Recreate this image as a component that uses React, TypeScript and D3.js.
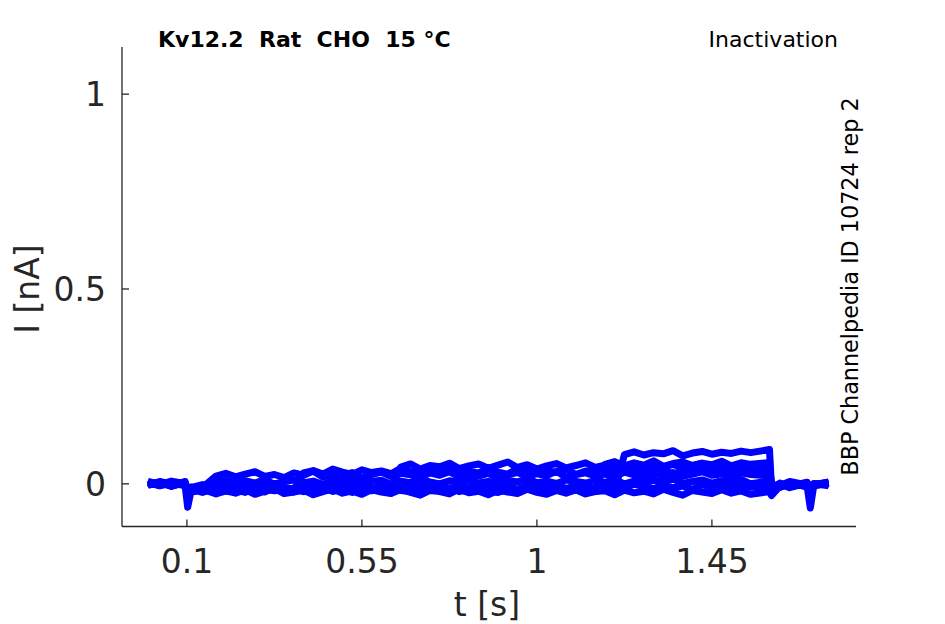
import React from "react";
import * as d3 from "d3";

// sample times (s)
const times = [
  0, 0.03, 0.06, 0.095, 0.102, 0.11, 0.14, 0.175, 0.2, 0.225,
  0.25, 0.275, 0.3, 0.325, 0.35, 0.375, 0.4, 0.425, 0.45, 0.475,
  0.5, 0.525, 0.55, 0.575, 0.6, 0.625, 0.65, 0.675, 0.7, 0.725,
  0.75, 0.775, 0.8, 0.825, 0.85, 0.875, 0.9, 0.925, 0.95, 0.975,
  1.0, 1.025, 1.05, 1.075, 1.1, 1.125, 1.15, 1.175, 1.2, 1.225,
  1.25, 1.275, 1.3, 1.325, 1.35, 1.375, 1.4, 1.425, 1.45, 1.475,
  1.5, 1.525, 1.55, 1.598, 1.603, 1.625, 1.65, 1.695, 1.703, 1.712,
  1.75,
];

// sweep currents in pA (converted to nA when drawn)
const sweep1 = [
  2, -4, 5, -2, -60, -22, -14, -26, -18, -24,
  -15, -27, -19, -12, -25, -21, -16, -28, -20, -13,
  -24, -18, -27, -15, -21, -25, -14, -22, -29, -17,
  -20, -26, -13, -23, -19, -28, -16, -21, -25, -14,
  -22, -27, -17, -24, -15, -26, -20, -18, -28, -16,
  -23, -19, -26, -14, -22, -29, -17, -21, -25, -15,
  -24, -18, -27, -20, -30, -6, 2, -8, -62, -4,
  3,
];
const sweep2 = [
  -3, 6, -1, 4, -30, -10, -2, -14, -6, -11,
  -3, -12, -5, 1, -9, -13, -4, -10, -1, -8,
  -12, -3, -7, -14, -2, -9, -11, -5, 0, -10,
  -6, -13, -3, -8, -12, -1, -9, -5, -14, -4,
  -10, -7, -2, -12, -6, -9, -13, -3, -8, -11,
  -1, -7, -12, -4, -10, -6, -14, -2, -9, -5,
  -11, -3, -8, -13, -15, 2, -6, 4, -25, -2,
  5,
];
const sweep3 = [
  5, -2, 7, 1, -22, -8, -14, 4, 9, 0,
  8, 2, 11, -1, 6, 10, 3, 7, -2, 9,
  4, 12, 1, 6, 9, -1, 7, 3, 11, 5,
  0, 8, 4, 10, 2, 6, -1, 9, 5, 12,
  3, 7, 1, 10, 6, 2, 8, 4, 11, 0,
  7, 3, 9, 5, 12, 1, 6, 10, 2, 8,
  4, 11, 0, 7, -10, -4, 6, -3, -20, 1,
  -5,
];
const sweep4 = [
  -4, 3, -6, 2, -28, -16, -9, 20, 27, 18,
  25, 31, 19, 24, 16, 28, 22, 33, 17, 26,
  21, 29, 15, 24, 30, 19, 27, 23, 16, 28,
  22, 31, 18, 25, 20, 27, 14, 24, 29, 19,
  26, 21, 32, 17, 24, 28, 20, 25, 18, 30,
  23, 16, 27, 21, 29, 19, 25, 31, 22, 26,
  18, 28, 24, 20, -5, -9, 1, -7, -18, -3,
  4,
];
const sweep5 = [
  6, -1, 3, -5, -20, -18, -11, -20, -13, -8,
  -17, -12, -21, -9, -16, -14, 28, 34, 25, 38,
  30, 24, 36, 29, 33, 26, 40, 31, 27, 35,
  29, 37, 24, 32, 28, 36, 30, 25, 39, 31,
  27, 34, 29, 38, 24, 33, 30, 36, 26, 32,
  35, 28, 31, 37, 25, 33, 29, 38, 30, 34,
  27, 36, 31, 33, -2, -8, 3, -5, -15, 0,
  -2,
];
const sweep6 = [
  -2, 4, -7, 5, -24, -19, -12, -17, -8, -14,
  -20, -10, -16, -6, -13, -18, -11, -15, -9, -19,
  -12, -17, -7, -14, -19, -10, 43, 51, 38, 47,
  44, 53, 39, 46, 51, 40, 48, 56, 42, 49,
  38, 46, 52, 41, 47, 54, 42, 48, 40, 45,
  51, 39, 47, 43, 50, 41, 46, 53, 44, 48,
  42, 50, 45, 47, -6, -1, -10, 2, -22, -4,
  1,
];
const sweep7 = [
  3, -5, 1, -3, -18, -21, -13, -18, -10, -16,
  -22, -11, -17, -8, -19, -14, -20, -12, -16, -9,
  -18, -13, -21, -11, -16, -7, -17, -20, -12, -15,
  -9, -19, -14, -21, -11, -17, -8, -16, -20, -13,
  -18, -10, -15, -22, -12, -17, -14, 50, 57, 46,
  54, 48, 59, 45, 52, 56, 47, 53, 49, 58,
  46, 54, 50, 55, -8, 0, -5, 3, -16, -6,
  2,
];
const sweep8 = [
  -1, 2, -4, 6, -15, -14, -22, -12, -19, -15,
  -11, -20, -14, -18, -9, -21, -13, -17, -10, -19,
  -15, -22, -12, -18, -14, -20, -11, -16, -21, -13,
  -18, -10, -20, -15, -12, -19, -22, -14, -17, -11,
  -20, -15, -13, -21, -16, -10, -19, -14, -18, 75,
  82, 74, 80, 77, 85, 72, 79, 83, 76, 81,
  78, 84, 80, 88, -4, -9, 1, -6, -14, -2,
  3,
];
const sweeps = [sweep1, sweep2, sweep3, sweep4, sweep5, sweep6, sweep7, sweep8];

const xTicks = [0.1, 0.55, 1, 1.45];
const yTicks = [0, 0.5, 1];
const xTickLabels = ["0.1", "0.55", "1", "1.45"];
const yTickLabels = ["0", "0.5", "1"];

const W = 945;
const H = 624;
const L = 122;
const R = 856;
const T = 47;
const B = 526.5;
const axisColor = "#262626";
const font = "'DejaVu Sans', sans-serif";

export default function App() {
  const x = d3.scaleLinear().domain([-0.0669, 1.8205]).range([L, R]);
  const y = d3.scaleLinear().domain([-0.1095, 1.121]).range([B, T]);
  const line = d3
    .line<number>()
    .x((_, i) => x(times[i]))
    .y((d) => y(d / 1000));

  return (
    <svg
      width={W}
      height={H}
      style={{ position: "absolute", left: 0, top: 0, background: "#fff" }}
      fontFamily={font}
    >
      <rect x={0} y={0} width={W} height={H} fill="#fff" />
      {sweeps.map((s, k) => (
        <path
          key={k}
          d={line(s) || ""}
          fill="none"
          stroke="#0000ff"
          strokeWidth={7}
          strokeLinejoin="round"
          strokeLinecap="butt"
        />
      ))}
      {/* axes */}
      <line x1={L} y1={T} x2={L} y2={B} stroke={axisColor} strokeWidth={1.3} />
      <line x1={L} y1={B} x2={R} y2={B} stroke={axisColor} strokeWidth={1.3} />
      {xTicks.map((t, i) => (
        <g key={"x" + i}>
          <line x1={x(t)} x2={x(t)} y1={B} y2={B - 7} stroke={axisColor} strokeWidth={1.3} />
          <text x={x(t)} y={573} textAnchor="middle" fontSize={33} fill={axisColor}>
            {xTickLabels[i]}
          </text>
        </g>
      ))}
      {yTicks.map((v, i) => (
        <g key={"y" + i}>
          <line x1={L} x2={L + 7} y1={y(v)} y2={y(v)} stroke={axisColor} strokeWidth={1.3} />
          <text x={106} y={y(v) + 12} textAnchor="end" fontSize={33} fill={axisColor}>
            {yTickLabels[i]}
          </text>
        </g>
      ))}
      <text x={487} y={616} textAnchor="middle" fontSize={33} fill={axisColor}>
        t [s]
      </text>
      <text
        transform={`translate(39,289) rotate(-90)`}
        textAnchor="middle"
        fontSize={33}
        fill={axisColor}
      >
        I [nA]
      </text>
      <text
        x={158}
        y={47}
        fontSize={22}
        fontWeight="bold"
        fill="#000"
        xmlSpace="preserve"
        style={{ whiteSpace: "pre" }}
      >
        {"Kv12.2  Rat  CHO  15 °C"}
      </text>
      <text x={838} y={47} textAnchor="end" fontSize={22} fill="#000">
        Inactivation
      </text>
      <text
        transform={`translate(858,286.5) rotate(-90)`}
        textAnchor="middle"
        fontSize={22.3}
        fill="#000"
      >
        BBP Channelpedia ID 10724 rep 2
      </text>
    </svg>
  );
}
